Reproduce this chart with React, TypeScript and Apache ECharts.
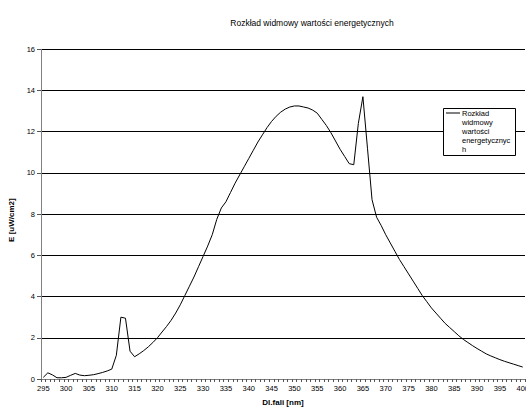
import React, { useEffect, useRef } from "react";
import * as echarts from "echarts";

const wavelengths: string[] = [];
for (let nm = 295; nm <= 400; nm++) wavelengths.push(String(nm));

const energyValues: number[] = [
  // 295-304
  0.08, 0.3, 0.2, 0.06, 0.06, 0.08, 0.18, 0.27, 0.19, 0.16,
  // 305-314
  0.18, 0.21, 0.26, 0.32, 0.39, 0.48, 1.15, 3.0, 2.95, 1.35,
  // 315-324
  1.08, 1.22, 1.38, 1.56, 1.77, 2.0, 2.28, 2.55, 2.85, 3.2,
  // 325-334
  3.6, 4.05, 4.5, 4.95, 5.45, 5.95, 6.45, 7.0, 7.75, 8.3,
  // 335-344
  8.6, 9.05, 9.5, 9.9, 10.3, 10.7, 11.1, 11.5, 11.85, 12.2,
  // 345-354
  12.5, 12.75, 12.95, 13.1, 13.2, 13.25, 13.25, 13.2, 13.15, 13.05,
  // 355-364
  12.9, 12.6, 12.3, 11.95, 11.55, 11.15, 10.8, 10.45, 10.4, 12.4,
  // 365-374
  13.7, 11.2, 8.7, 7.85, 7.45, 7.0, 6.6, 6.2, 5.8, 5.45,
  // 375-384
  5.1, 4.75, 4.4, 4.05, 3.75, 3.45, 3.2, 2.95, 2.7, 2.5,
  // 385-394
  2.3, 2.1, 1.92, 1.77, 1.62, 1.48, 1.35, 1.22, 1.12, 1.03,
  // 395-400
  0.94, 0.86, 0.79, 0.72, 0.65, 0.58,
];

const chartTitle = "Rozkład widmowy wartości energetycznych";
const seriesName = "Rozkład widmowy wartości energetycznych";
const legendLines = ["Rozkład", "widmowy", "wartości", "energetycznyc", "h"];
const xAxisName = "Dl.fali [nm]";
const yAxisName = "E [uW/cm2]";

export default function App() {
  const ref = useRef<HTMLDivElement>(null);
  useEffect(() => {
    if (!ref.current) return;
    const chart = echarts.init(ref.current, undefined, { renderer: "svg" });
    const font = "Liberation Sans, Arial, sans-serif";
    chart.setOption({
      animation: false,
      textStyle: { fontFamily: font },
      title: {
        text: chartTitle,
        left: 307,
        top: 13,
        textAlign: "center",
        textStyle: { fontSize: 8.5, fontWeight: "normal", color: "#000", fontFamily: font },
      },
      grid: {
        left: 41,
        right: 1,
        top: 49.3,
        bottom: 29,
        containLabel: false,
        outerBoundsMode: "none",
      },
      xAxis: {
        type: "category",
        data: wavelengths,
        boundaryGap: true,
        name: xAxisName,
        nameLocation: "middle",
        nameGap: 19,
        nameTextStyle: { fontSize: 8, fontWeight: "bold", color: "#000", fontFamily: font },
        axisLine: { show: true, lineStyle: { color: "#808080", width: 1 } },
        axisTick: { show: true, interval: 0, length: 3, lineStyle: { color: "#555" } },
        axisLabel: { interval: 4, fontSize: 7.5, color: "#000", margin: 5, fontFamily: font, hideOverlap: false },
        splitLine: { show: false },
      },
      yAxis: {
        type: "value",
        min: 0,
        max: 16,
        interval: 2,
        name: yAxisName,
        nameLocation: "middle",
        nameGap: 24,
        nameRotate: 90,
        nameTextStyle: { fontSize: 8, fontWeight: "bold", color: "#000", fontFamily: font, padding: [0, 12, 0, 0] },
        axisLine: { show: true, lineStyle: { color: "#808080", width: 1 } },
        axisTick: { show: true, length: 4, lineStyle: { color: "#555" } },
        axisLabel: { fontSize: 7.5, color: "#000", margin: 6, fontFamily: font },
        splitLine: { show: true, lineStyle: { color: "#000", width: 1 } },
      },
      series: [
        {
          type: "line",
          name: seriesName,
          data: energyValues,
          symbol: "none",
          lineStyle: { color: "#000", width: 1 },
          itemStyle: { color: "#000" },
        },
      ],
      graphic: [
        {
          type: "rect",
          shape: { x: 443.5, y: 108.5, width: 72, height: 47 },
          style: { fill: "#fff", stroke: "#000", lineWidth: 1 },
          z: 100,
        },
        {
          type: "line",
          shape: { x1: 446, y1: 113, x2: 460, y2: 113 },
          style: { stroke: "#000", lineWidth: 1 },
          z: 101,
        },
        ...legendLines.map((t, i) => ({
          type: "text",
          x: 462,
          y: 113 + i * 9,
          style: {
            text: t,
            fontSize: 7.5,
            fill: "#000",
            fontFamily: font,
            verticalAlign: "middle",
            align: "left",
          },
          z: 101,
        })),
      ],
    });
    return () => chart.dispose();
  }, []);
  return (
    <div
      ref={ref}
      style={{ position: "fixed", left: 0, top: 0, width: 526, height: 408, background: "#fff" }}
    />
  );
}
